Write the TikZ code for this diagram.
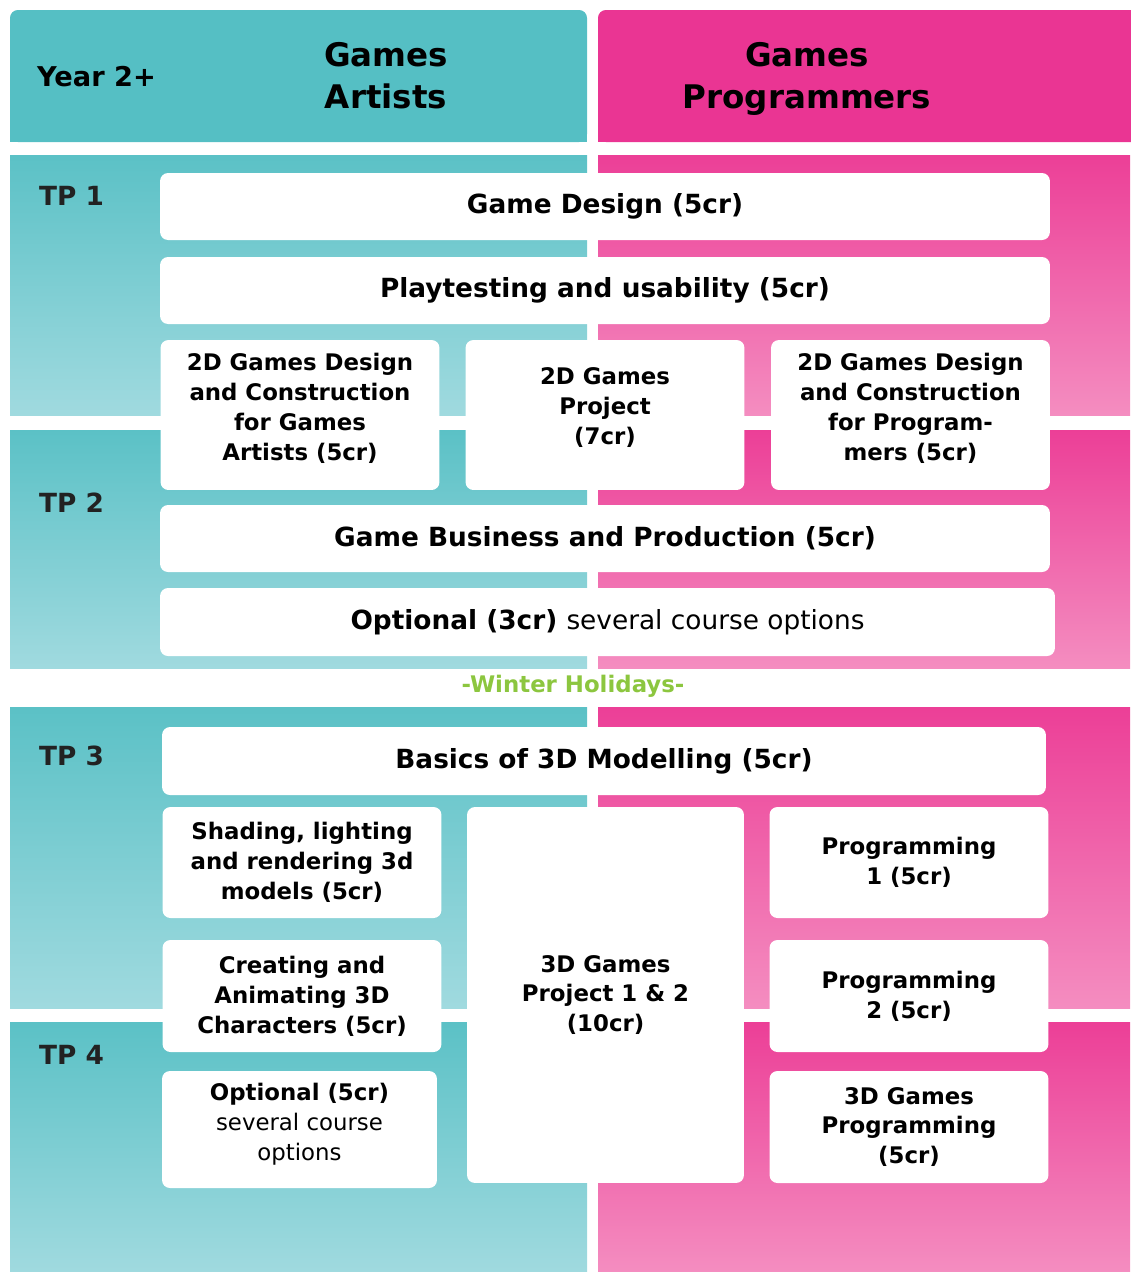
\documentclass[tikz,border=0pt]{standalone}
\usepackage{fontspec}
\setmainfont{DejaVu Sans}

\definecolor{tealhead}{HTML}{55BFC4}
\definecolor{tealtop}{HTML}{5BC1C6}
\definecolor{tealbot}{HTML}{A0DADF}
\definecolor{pinkhead}{HTML}{EA3593}
\definecolor{pinktop}{HTML}{EC3F97}
\definecolor{pinkbot}{HTML}{F48DC0}
\definecolor{holiday}{HTML}{8CC63F}
\definecolor{labelgray}{HTML}{222222}

\begin{document}
\begin{tikzpicture}[
    x=0.02cm, y=-0.02cm,
    course/.style={rectangle, rounded corners=4.5pt, fill=white, align=center, inner sep=2pt, font=\fontsize{13}{17}\selectfont\bfseries},
    wide/.style={course, minimum width=17.8cm, minimum height=1.34cm, font=\fontsize{15}{18}\selectfont\bfseries},
    small/.style={course, minimum width=5.58cm, minimum height=2.22cm},
    teal_band/.style={top color=tealtop, bottom color=tealbot},
    pink_band/.style={top color=pinktop, bottom color=pinkbot},
    period/.style={anchor=west, text=labelgray, font=\fontsize{15}{18}\selectfont\bfseries},
    title/.style={align=center, font=\fontsize{18.5}{23.8}\selectfont\bfseries}
]
    \useasboundingbox (0,0) rectangle (1130,1272);

    % Header
    \fill[tealhead, rounded corners=4.5pt] (10,10) rectangle (587,142);
    \fill[tealhead] (10,60) rectangle (587,142);
    \fill[pinkhead, rounded corners=4.5pt] (598,10) rectangle (1140,142);
    \fill[pinkhead] (598,60) rectangle (1130,142);

    % Period bands
    \fill[teal_band] (10,155) rectangle (587,415);
    \fill[pink_band] (598,155) rectangle (1130,415);
    \fill[teal_band] (10,430) rectangle (587,668);
    \fill[pink_band] (598,430) rectangle (1130,668);
    \fill[teal_band] (10,707) rectangle (587,1008);
    \fill[pink_band] (598,707) rectangle (1130,1008);
    \fill[teal_band] (10,1022) rectangle (587,1272);
    \fill[pink_band] (598,1022) rectangle (1130,1272);

    % Titles and periods
    \node[period, font=\fontsize{15.5}{18}\selectfont\bfseries, text=black] (year) at (31,77) {Year 2+};
    \node[title] (artists) at (386,76) {Games\\Artists};
    \node[title] (programmers) at (807,79) {Games\\Programmers};
    \node[period] (tp1) at (33,196) {TP 1};
    \node[period] (tp2) at (33,503) {TP 2};
    \node[period] (tp3) at (33,756) {TP 3};
    \node[period] (tp4) at (33,1055) {TP 4};
    \node[text=holiday, font=\fontsize{13}{16}\selectfont\bfseries] (winter) at (573,686) {-Winter Holidays-};

    % Courses, TP 1 and TP 2
    \node[wide] (design) at (605,206.5) {Game Design (5cr)};
    \node[wide] (playtest) at (605,290.5) {Playtesting and usability (5cr)};
    \node[small, minimum height=3cm] (art2d) at (300,415) {2D Games Design\\and Construction\\for Games\\Artists (5cr)\\[-8pt]};
    \node[small, minimum height=3cm] (project2d) at (605,415) {2D Games\\Project\\(7cr)\\[-7pt]};
    \node[small, minimum height=3cm] (prog2d) at (910.5,415) {2D Games Design\\and Construction\\for Program-\\mers (5cr)\\[-8pt]};
    \node[wide] (business) at (605,538.5) {Game Business and Production (5cr)};
    \node[wide, minimum width=17.9cm, minimum height=1.36cm] (optional3) at (607.5,622) {Optional (3cr) \mdseries several course options};

    % Courses, TP 3 and TP 4
    \node[wide, minimum width=17.68cm, minimum height=1.36cm] (modelling) at (604,761) {Basics of 3D Modelling (5cr)};
    \node[small] (shading) at (302,862.5) {Shading, lighting\\and rendering 3d\\models (5cr)};
    \node[small, minimum height=2.24cm] (animating) at (302,996) {Creating and\\Animating 3D\\Characters (5cr)};
    \node[small, minimum width=5.5cm, minimum height=2.34cm] (optional5) at (299.5,1129.5) {Optional (5cr)\\\mdseries several course\\\mdseries options\\[-8.5pt]};
    \node[small, minimum width=5.54cm, minimum height=7.52cm] (project3d) at (605.5,995) {3D Games\\Project 1 \& 2\\(10cr)};
    \node[small] (prog1) at (909,862.5) {Programming\\1 (5cr)};
    \node[small, minimum height=2.24cm] (prog2) at (909,996) {Programming\\2 (5cr)};
    \node[small, minimum height=2.24cm] (prog3d) at (909,1127) {3D Games\\Programming\\(5cr)};
\end{tikzpicture}
\end{document}
